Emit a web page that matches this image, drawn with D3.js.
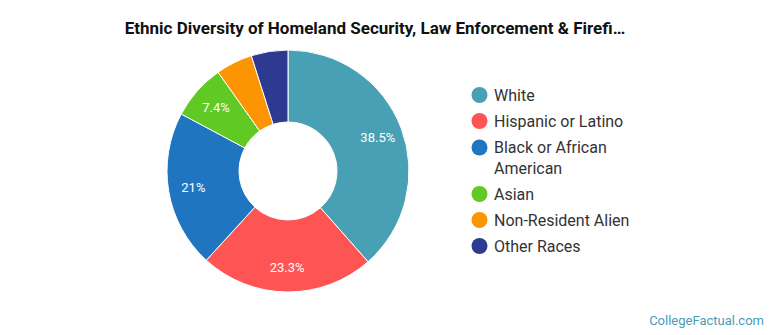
<!DOCTYPE html>
<html><head><meta charset="utf-8">
<script src="https://cdn.jsdelivr.net/npm/d3@7"></script>
<style>html,body{margin:0;padding:0;background:#fff;}svg{display:block;font-family:Roboto,"Noto Sans",sans-serif;}</style>
</head><body>
<svg id="chart" width="770" height="335"></svg>
<script>
const categories = ["White","Hispanic or Latino","Black or African American","Asian","Non-Resident Alien","Other Races"];
const legendLines = [["White"],["Hispanic or Latino"],["Black or African","American"],["Asian"],["Non-Resident Alien"],["Other Races"]];
const values = [38.5, 23.3, 21, 7.4, 4.9, 4.9];
const valueLabels = ["38.5%","23.3%","21%","7.4%","",""];
const colors = ["#48a0b4","#fe5454","#1f75c0","#61c924","#fd9502","#2e3a90"];
const title = "Ethnic Diversity of Homeland Security, Law Enforcement & Firefi\u2026";
const credit = "CollegeFactual.com";

const svg = d3.select("#chart");
const cx = 288, cy = 171, rOuter = 121, rInner = 49;

svg.append("text").attr("x", 375).attr("y", 34).attr("text-anchor","middle")
  .attr("font-size", 17).attr("font-weight","bold").attr("fill","#111").text(title);

const pie = d3.pie().sort(null).value(d => d)(values);
const arc = d3.arc().innerRadius(rInner).outerRadius(rOuter);
const labelArc = d3.arc().innerRadius(96).outerRadius(96);
const g = svg.append("g").attr("transform", `translate(${cx},${cy})`);
g.selectAll("path").data(pie).join("path")
  .attr("d", arc).attr("fill", (d,i) => colors[i])
  .attr("stroke","#fff").attr("stroke-width",1);
g.selectAll("text").data(pie).join("text")
  .attr("transform", d => `translate(${labelArc.centroid(d)})`)
  .attr("text-anchor","middle").attr("dy","0.35em")
  .attr("font-size", 13).attr("fill","#fff")
  .text((d,i) => valueLabels[i]);

const legendY = [95, 121, 147.5, 194, 220, 246];
const lg = svg.append("g");
categories.forEach((c,i) => {
  lg.append("circle").attr("cx", 479.5).attr("cy", legendY[i]).attr("r", 8).attr("fill", colors[i]);
  legendLines[i].forEach((ln, j) => {
    lg.append("text").attr("x", 494).attr("y", legendY[i] + j*21).attr("dy","0.35em")
      .attr("font-size", 16).attr("fill","#333").text(ln);
  });
});

svg.append("text").attr("x", 764).attr("y", 325).attr("text-anchor","end")
  .attr("font-size", 13).attr("fill","#4b9bb5").text(credit);
</script>
</body></html>
